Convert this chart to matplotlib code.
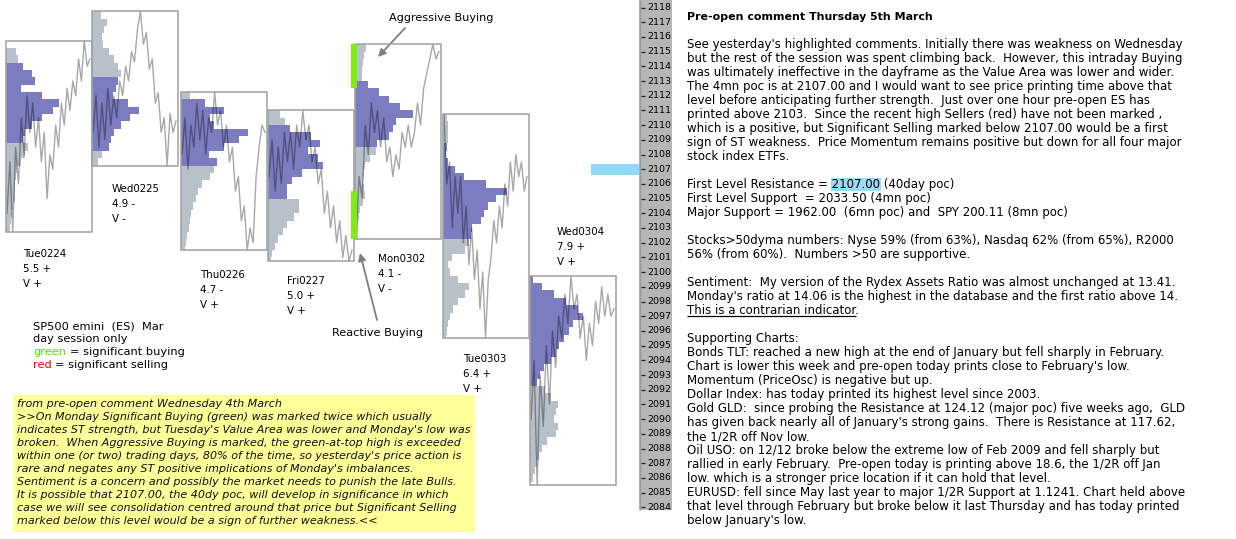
import numpy as np
import matplotlib.pyplot as plt
from matplotlib.patches import Rectangle

W, H = 1236, 539
PPT = 14.7                 # pixels per index point on the price ladder
TOP = 2118 + 7.5 / PPT     # price at the top edge of the picture
BOX_W = 86

# --- session data -----------------------------------------------------------
days = ['Tue0224', 'Wed0225', 'Thu0226', 'Fri0227', 'Mon0302', 'Tue0303', 'Wed0304']
day_range = ['5.5 +', '4.9 -', '4.7 -', '5.0 +', '4.1 -', '6.4 +', '7.9 +']
day_vol = ['V +', 'V -', 'V +', 'V +', 'V -', 'V +', 'V +']
day_high = [2115.75, 2117.75, 2112.25, 2111.0, 2115.5, 2110.75, 2099.75]
day_low = [2102.75, 2107.25, 2101.5, 2100.75, 2102.25, 2095.5, 2085.5]
va_high = [2114.25, 2113.25, 2111.75, 2110.0, 2113.0, 2108.75, 2099.75]
va_low = [2108.75, 2108.25, 2107.25, 2105.0, 2108.5, 2102.25, 2092.25]

# volume profile, share of box width per half point, from the high down
prof_tue0224 = [0.0, 0.12, 0.14, 0.20, 0.30, 0.34, 0.18, 0.42, 0.62, 0.55, 0.42, 0.30, 0.22,
                0.20, 0.26, 0.22, 0.17, 0.13, 0.12, 0.11, 0.10, 0.10, 0.08, 0.07, 0.06, 0.05]
prof_wed0225 = [0.10, 0.17, 0.14, 0.12, 0.13, 0.20, 0.26, 0.30, 0.34, 0.30, 0.28, 0.24, 0.42,
                0.55, 0.44, 0.34, 0.26, 0.22, 0.20, 0.12, 0.07]
prof_thu0226 = [0.10, 0.28, 0.50, 0.34, 0.38, 0.78, 0.68, 0.50, 0.32, 0.42, 0.38, 0.34, 0.24,
                0.20, 0.17, 0.14, 0.12, 0.10, 0.09, 0.07, 0.06, 0.05]
prof_fri0227 = [0.14, 0.20, 0.26, 0.50, 0.60, 0.46, 0.58, 0.64, 0.40, 0.28, 0.22, 0.22, 0.36,
                0.36, 0.30, 0.22, 0.17, 0.12, 0.08, 0.05, 0.04]
prof_mon0302 = [0.13, 0.11, 0.09, 0.08, 0.08, 0.15, 0.28, 0.40, 0.52, 0.68, 0.48, 0.44, 0.40,
                0.25, 0.24, 0.18, 0.12, 0.10, 0.09, 0.11, 0.12, 0.09, 0.06, 0.05, 0.04, 0.04, 0.03]
prof_tue0303 = [0.05, 0.06, 0.06, 0.06, 0.05, 0.04, 0.06, 0.14, 0.24, 0.50, 0.74, 0.62, 0.52,
                0.48, 0.44, 0.34, 0.32, 0.30, 0.26, 0.10, 0.06, 0.08, 0.18, 0.30, 0.26, 0.18,
                0.12, 0.08, 0.06, 0.05, 0.04]
prof_wed0304 = [0.04, 0.14, 0.28, 0.42, 0.56, 0.62, 0.50, 0.45, 0.40, 0.34, 0.30, 0.24, 0.16,
                0.12, 0.08, 0.18, 0.24, 0.32, 0.30, 0.28, 0.32, 0.30, 0.20, 0.14, 0.10, 0.08,
                0.06, 0.04]

# intraday price, evenly spaced in time
path_tue0224 = [2104.0, 2107.5, 2102.75, 2108.5, 2106.0, 2110.5, 2108.0, 2112.0, 2109.5, 2111.5,
                2108.5, 2110.5, 2107.5, 2109.5, 2105.0, 2108.0, 2107.0, 2110.0, 2108.5, 2111.5,
                2110.0, 2112.5, 2111.0, 2113.0, 2112.0, 2114.5, 2113.0, 2115.75, 2114.0, 2114.5]
path_wed0225 = [2109.5, 2112.0, 2108.5, 2111.5, 2109.0, 2112.5, 2110.0, 2112.0, 2110.5, 2113.0,
                2112.0, 2114.0, 2113.0, 2115.0, 2114.3, 2116.5, 2117.75, 2115.5, 2116.3, 2113.8,
                2114.5, 2111.5, 2112.2, 2109.5, 2110.5, 2107.25, 2110.8, 2109.5, 2110.3]
path_thu0226 = [2108.0, 2110.5, 2107.0, 2110.0, 2108.5, 2111.5, 2109.0, 2111.0, 2108.0, 2110.5,
                2109.5, 2112.25, 2110.0, 2111.0, 2108.5, 2110.0, 2107.5, 2108.5, 2105.5, 2106.5,
                2103.5, 2104.5, 2101.5, 2103.0, 2102.0, 2106.5, 2108.5, 2110.0, 2109.5]
path_fri0227 = [2106.5, 2109.0, 2105.5, 2108.5, 2106.0, 2109.5, 2107.5, 2109.5, 2107.0, 2110.0,
                2108.5, 2111.0, 2109.0, 2110.0, 2107.5, 2108.5, 2106.0, 2107.0, 2104.0, 2105.5,
                2103.0, 2104.5, 2102.0, 2103.5, 2101.0, 2102.5, 2100.75, 2101.5]
path_mon0302 = [2102.25, 2106.5, 2105.0, 2110.0, 2108.0, 2111.5, 2109.5, 2111.0, 2108.5, 2110.5,
                2107.5, 2108.5, 2106.5, 2108.0, 2107.0, 2109.5, 2108.5, 2110.0, 2108.5, 2109.5,
                2111.5, 2110.0, 2112.5, 2113.5, 2114.5, 2115.5, 2114.5, 2115.0]
path_tue0303 = [2110.75, 2106.0, 2107.5, 2103.0, 2106.5, 2104.0, 2106.5, 2102.0, 2104.5, 2100.5,
                2103.0, 2099.5, 2101.5, 2097.5, 2100.0, 2095.5, 2099.5, 2101.0, 2103.5, 2102.0,
                2104.5, 2103.0, 2106.0, 2104.5, 2107.5, 2105.5, 2108.0, 2106.5, 2107.5, 2105.5,
                2106.5]
path_wed0304 = [2090.0, 2094.0, 2085.5, 2093.0, 2089.5, 2095.0, 2091.0, 2096.0, 2093.5, 2097.0,
                2095.5, 2098.5, 2096.5, 2099.75, 2097.5, 2098.5, 2095.5, 2097.0, 2094.0, 2096.5,
                2095.0, 2098.0, 2096.5, 2099.0, 2097.0, 2098.5, 2097.0, 2097.5]

profiles = [prof_tue0224, prof_wed0225, prof_thu0226, prof_fri0227,
            prof_mon0302, prof_tue0303, prof_wed0304]
paths = [path_tue0224, path_wed0225, path_thu0226, path_fri0227,
         path_mon0302, path_tue0303, path_wed0304]

# significant buying marked on Monday (price ranges)
green_marks = [(2115.5, 2112.5), (2105.5, 2102.25)]
poc_40day = 2107.0
ladder_ticks = list(range(2084, 2119))

# layout (pixels)
day_x = [6, 92, 181, 268, 355, 443, 530]
label_xy = [(23, 257), (112, 192), (200, 278), (287, 284), (378, 262), (463, 362), (557, 235)]

yellow_lines = [
    "from pre-open comment Wednesday 4th March",
    ">>On Monday Significant Buying (green) was marked twice which usually",
    "indicates ST strength, but Tuesday's Value Area was lower and Monday's low was",
    "broken.  When Aggressive Buying is marked, the green-at-top high is exceeded",
    "within one (or two) trading days, 80% of the time, so yesterday's price action is",
    "rare and negates any ST positive implications of Monday's imbalances.",
    "Sentiment is a concern and possibly the market needs to punish the late Bulls.",
    "It is possible that 2107.00, the 40dy poc, will develop in significance in which",
    "case we will see consolidation centred around that price but Significant Selling",
    "marked below this level would be a sign of further weakness.<<",
]

comment_lines = [
    "Pre-open comment Thursday 5th March",
    "",
    "See yesterday's highlighted comments. Initially there was weakness on Wednesday",
    "but the rest of the session was spent climbing back.  However, this intraday Buying",
    "was ultimately ineffective in the dayframe as the Value Area was lower and wider.",
    "The 4mn poc is at 2107.00 and I would want to see price printing time above that",
    "level before anticipating further strength.  Just over one hour pre-open ES has",
    "printed above 2103.  Since the recent high Sellers (red) have not been marked ,",
    "which is a positive, but Significant Selling marked below 2107.00 would be a first",
    "sign of ST weakness.  Price Momentum remains positive but down for all four major",
    "stock index ETFs.",
    "",
    "First Level Resistance = 2107.00 (40day poc)",
    "First Level Support  = 2033.50 (4mn poc)",
    "Major Support = 1962.00  (6mn poc) and  SPY 200.11 (8mn poc)",
    "",
    "Stocks>50dyma numbers: Nyse 59% (from 63%), Nasdaq 62% (from 65%), R2000",
    "56% (from 60%).  Numbers >50 are supportive.",
    "",
    "Sentiment:  My version of the Rydex Assets Ratio was almost unchanged at 13.41.",
    "Monday's ratio at 14.06 is the highest in the database and the first ratio above 14.",
    "This is a contrarian indicator.",
    "",
    "Supporting Charts:",
    "Bonds TLT: reached a new high at the end of January but fell sharply in February.",
    "Chart is lower this week and pre-open today prints close to February's low.",
    "Momentum (PriceOsc) is negative but up.",
    "Dollar Index: has today printed its highest level since 2003.",
    "Gold GLD:  since probing the Resistance at 124.12 (major poc) five weeks ago,  GLD",
    "has given back nearly all of January's strong gains.  There is Resistance at 117.62,",
    "the 1/2R off Nov low.",
    "Oil USO: on 12/12 broke below the extreme low of Feb 2009 and fell sharply but",
    "rallied in early February.  Pre-open today is printing above 18.6, the 1/2R off Jan",
    "low. which is a stronger price location if it can hold that level.",
    "EURUSD: fell since May last year to major 1/2R Support at 1.1241. Chart held above",
    "that level through February but broke below it last Thursday and has today printed",
    "below January's low.",
]

BLUE = '#7c7cc0'
GREY = '#b8c1ca'

fig = plt.figure(figsize=(W / 100, H / 100), dpi=100)
fig.patch.set_facecolor('white')
ax = fig.add_axes([0, 0, 1, 1])
ax.set_xlim(0, W)
ax.set_ylim(TOP - H / PPT, TOP)
ax.axis('off')
rend = fig.canvas.get_renderer()


def yp(y):
    # pixel row -> price, for things placed by layout
    return TOP - y / PPT


def text_w(s, **kw):
    t = ax.text(0, 0, s, **kw)
    w = t.get_window_extent(renderer=rend).width
    t.remove()
    return w


# --- day profiles -----------------------------------------------------------
for i, day in enumerate(days):
    x0 = day_x[i]
    hi, lo = day_high[i], day_low[i]
    tops = hi - 0.5 * np.arange(len(profiles[i]))
    bots = np.maximum(tops - 0.5, lo)
    mids = (tops + bots) / 2
    cols = [BLUE if va_low[i] <= m <= va_high[i] else GREY for m in tops - 0.25]
    ax.barh(mids, np.array(profiles[i]) * BOX_W, height=tops - bots, left=x0,
            color=cols, linewidth=0, antialiased=False, zorder=2)

    t = np.linspace(0, 1, len(paths[i]))
    ax.plot(x0 + 1 + t * (BOX_W - 3), paths[i], color='black', alpha=0.34, lw=1.0, zorder=3)

    ax.add_patch(Rectangle((x0, lo), BOX_W, hi - lo, fill=False, edgecolor='#a0a0a0',
                           lw=1.1, zorder=4))

    lx, ly = label_xy[i]
    for k, s in enumerate([day, day_range[i], day_vol[i]]):
        ax.text(lx, yp(ly + 15 * k), s, fontsize=7.4, va='baseline', color='black')

for top, bot in green_marks:
    ax.bar(354, top - bot, width=6, bottom=bot, color='#7ded12', linewidth=0, zorder=5)

# --- price ladder and poc marker --------------------------------------------
ax.add_patch(Rectangle((639, yp(510)), 33, TOP - yp(510), color='#b6b6b6', lw=0, zorder=1))
ax.vlines(639.5, yp(510), TOP, color='#9a9a9a', lw=1, zorder=1)
ax.hlines(ladder_ticks, 641, 645, color='#222222', lw=0.9, zorder=2)
for p in ladder_ticks:
    ax.text(647.5, p, str(p), fontsize=6.8, va='center', ha='left', color='black')

ax.barh(poc_40day, 48, height=0.75, left=591, color='#8fd9f9', linewidth=0)

# --- annotations -------------------------------------------------------------
ax.text(389, yp(20.7), 'Aggressive Buying', fontsize=8.1, va='baseline')
ax.annotate('', xy=(378, yp(57)), xytext=(405, yp(28)),
            arrowprops=dict(arrowstyle='-|>', color='#7f7f7f', lw=1.3,
                            mutation_scale=11, shrinkA=0, shrinkB=0))
ax.text(332, yp(335.7), 'Reactive Buying', fontsize=8.1, va='baseline')
ax.annotate('', xy=(360, yp(253)), xytext=(377, yp(320)),
            arrowprops=dict(arrowstyle='-|>', color='#7f7f7f', lw=1.3,
                            mutation_scale=11, shrinkA=0, shrinkB=0))

# legend block
lf = dict(fontsize=8.2, va='baseline')
ax.text(33, yp(329.3), 'SP500 emini  (ES)  Mar', **lf)
ax.text(33, yp(342.1), 'day session only', **lf)
for row, (word, rest, col) in enumerate([('green', ' = significant buying', '#3cf000'),
                                         ('red', ' = significant selling', '#ff0000')]):
    yb = yp(354.9 + 12.8 * row)
    ax.text(33, yb, word, color=col, **lf)
    xr = 33 + text_w(word + rest, **lf) - text_w(rest.strip(), **lf)
    ax.text(xr, yb, rest.strip(), **lf)

# yellow note
ax.add_patch(Rectangle((13, yp(532)), 462, (532 - 395) / PPT, color='#ffff99', lw=0, zorder=1))
for k, s in enumerate(yellow_lines):
    ax.text(17, yp(406.7 + 13 * k), s, fontsize=8.05, style='italic', va='baseline',
            color='#111111', zorder=2)

# --- comment column ---------------------------------------------------------
cf = dict(fontsize=8.5, va='baseline', color='black')
for k, s in enumerate(comment_lines):
    yb = yp(20.3 + 14 * k)
    if k == 0:
        ax.text(687, yb, s, fontsize=7.9, fontweight='bold', va='baseline')
        continue
    if s.startswith('First Level Resistance'):
        x1 = 687 + text_w('First Level Resistance = 2107.00', **cf)
        x0 = x1 - text_w('2107.00', **cf)
        ax.add_patch(Rectangle((x0 - 1, yb - 3 / PPT), x1 - x0 + 2, 13.5 / PPT,
                               color='#99dcf9', lw=0, zorder=1))
    if s.startswith('This is a contrarian'):
        x1 = 687 + text_w('This is a contrarian indicator', **cf)
        ax.hlines(yb - 1.5 / PPT, 687, x1, color='black', lw=0.9)
    ax.text(687, yb, s, zorder=2, **cf)

fig.savefig('out.png', dpi=100)
